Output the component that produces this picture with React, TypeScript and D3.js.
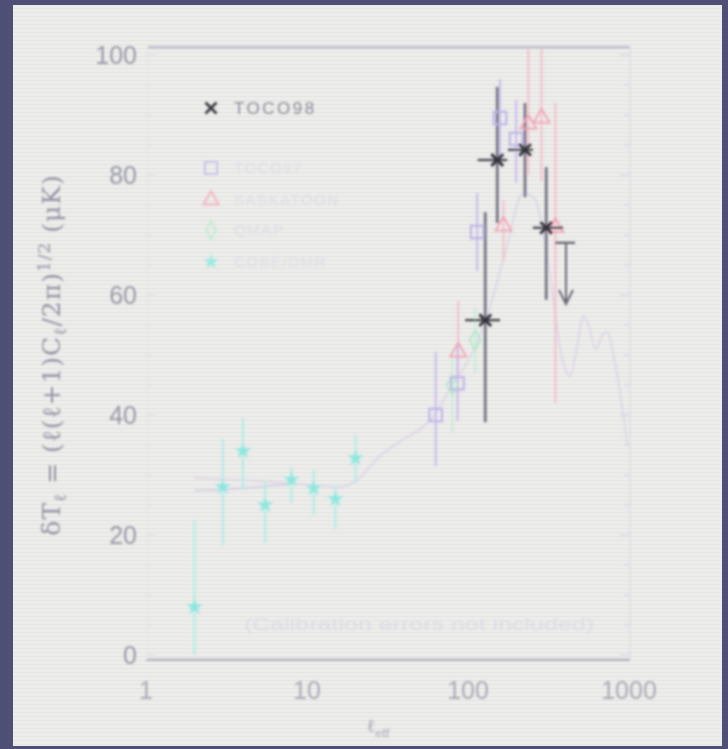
import React from "react";
import * as d3 from "d3";

// ---------- data ----------
const xTicks = [1, 10, 100, 1000];
const xTickLabels = ["1", "10", "100", "1000"];
const yTicks = [0, 20, 40, 60, 80, 100];
const yTickLabels = ["0", "20", "40", "60", "80", "100"];

// COBE/DMR
const cobeL = [2, 3, 4, 5.5, 8, 11, 15, 20];
const cobeV = [8, 28, 34, 25, 29.2, 27.8, 26, 32.8];
const cobeHi = [22.5, 36, 39.5, 29, 31.3, 30.8, 28, 36.7];
const cobeLo = [0, 18.3, 27.5, 18.7, 25.3, 23.3, 21, 28.7];

// TOCO97
const toco97L = [63, 86, 114, 158, 199];
const toco97V = [40, 45.3, 70.5, 89.5, 86];
const toco97Hi = [50.5, 52, 77, 96, 92.5];
const toco97Lo = [31.5, 39, 64, 82, 78.7];

// SASKATOON
const sasL = [87, 166, 237, 286, 349];
const sasV = [50.5, 71.5, 88.5, 89.5, 71.3];
const sasHi = [59, 75.8, 101, 101, 92];
const sasLo = [43, 65.8, 80, 79, 42];

// QMAP
const qmapL = [80, 111];
const qmapV = [45, 52.5];
const qmapHi = [49.7, 58];
const qmapLo = [37, 47];

// TOCO98
const toco98L = [128, 152, 226, 306];
const toco98V = [55.8, 82.5, 84.2, 71.2];
const toco98Hi = [73.8, 94.7, 92, 81.3];
const toco98Lo = [38.8, 72, 76.3, 59.2];
const toco98LMin = [96, 115, 177, 253];
const toco98LMax = [158, 175, 253, 389];
// TOCO98 upper limit
const limL = [406];
const limLMin = [347];
const limLMax = [462];
const limV = [68.7];
const limArrowTo = [58.5];

// model curve
const modelL = [2, 3, 5, 8, 12, 16, 20, 28, 40, 50, 60, 80, 100, 130, 170, 220, 260, 320, 380, 430, 480, 520, 560, 620, 690, 740, 800, 860, 920, 980];
const modelV = [29.5, 29.3, 29, 28.6, 28.2, 28, 29, 33, 36, 37.6, 39.5, 45, 49, 56, 67, 77, 76, 64, 50, 46.5, 52, 56.5, 55, 51, 53.5, 53.8, 50, 45.5, 40, 35];
const model2L = [2, 3, 5, 8];
const model2V = [27.4, 27.6, 28, 28.5];

// legend
const legendNames = ["TOCO98", "TOCO97", "SASKATOON", "QMAP", "COBE/DMR"];

const W = 728;
const H = 749;

export default function App() {
  const x = d3.scaleLog().domain([1, 1000]).range([146, 629]);
  const y = d3.scaleLinear().domain([0, 100]).range([655, 55]);
  const yTop = 101.3;
  const yBot = -0.8;

  const line = d3
    .line<[number, number]>()
    .x((d) => x(d[0]))
    .y((d) => y(d[1]))
    .curve(d3.curveMonotoneX);

  const sym = (type: d3.SymbolType, size: number) => d3.symbol().type(type).size(size)() as string;

  const errBars = (L: number[], hi: number[], lo: number[], color: string, w: number, key: string) =>
    L.map((l, i) => (
      <line key={key + i} x1={x(l)} x2={x(l)} y1={y(Math.min(hi[i], yTop))} y2={y(Math.max(lo[i], yBot))} stroke={color} strokeWidth={w} />
    ));

  const cobeCol = "#8ee6de";
  const t97Col = "#beb3e8";
  const sasCol = "#f3a4b6";
  const qmapCol = "#b0eac8";
  const t98Col = "#34343c";

  const legendY = [108, 168, 200, 230, 262];
  const legendX = 211;

  return (
    <svg width={W} height={H} style={{ position: "absolute", left: 0, top: 0 }} xmlns="http://www.w3.org/2000/svg">
      <defs>
        <pattern id="scan" width="4" height="4" patternUnits="userSpaceOnUse">
          <rect width="4" height="1" fill="#000" opacity="0.025" />
        </pattern>
        <filter id="soft" x="-5%" y="-5%" width="110%" height="110%">
          <feGaussianBlur stdDeviation="0.8" />
        </filter>
      </defs>
      {/* frame */}
      <rect x={0} y={0} width={W} height={H} fill="#4f4e74" />
      <rect x={13} y={5} width={W - 19} height={H - 8} fill="#ececea" />
      <rect x={13} y={5} width={W - 19} height={H - 8} fill="url(#scan)" />

      <g filter="url(#soft)">
        {/* plot box */}
        <line x1={x(1) + 2} x2={x(1000) + 1} y1={y(yTop)} y2={y(yTop)} stroke="#b4b4c6" strokeWidth={2} />
        <line x1={x(1)} x2={x(1000) + 1} y1={y(yBot)} y2={y(yBot)} stroke="#a9a9bb" strokeWidth={2} />
        <line x1={x(1000) + 1} x2={x(1000) + 1} y1={y(yTop)} y2={y(yBot)} stroke="#dedee8" strokeWidth={1.5} />
        <line x1={x(1) + 1} x2={x(1) + 1} y1={y(yTop)} y2={y(yBot)} stroke="#e6e6ec" strokeWidth={1} />
        {d3.range(0, 101, 5).map((v) => (
          <g key={"rt" + v}>
            <line x1={x(1000) + 1} x2={x(1000) - (v % 20 === 0 ? 9 : 5)} y1={y(v)} y2={y(v)} stroke="#d8d8e4" strokeWidth={1.5} />
            <line x1={x(1) + 1} x2={x(1) + (v % 20 === 0 ? 9 : 5)} y1={y(v)} y2={y(v)} stroke="#dedee6" strokeWidth={1.5} />
          </g>
        ))}

        {/* tick labels */}
        {yTicks.map((v, i) => (
          <text key={"yl" + v} x={137} y={y(v)} dy="0.36em" textAnchor="end" fontFamily="Liberation Sans, Arial, sans-serif" fontSize={25} fill="#9a9aa9">
            {yTickLabels[i]}
          </text>
        ))}
        {xTicks.map((v, i) => (
          <text key={"xl" + v} x={x(v)} y={690} dy="0.36em" textAnchor="middle" fontFamily="Liberation Sans, Arial, sans-serif" fontSize={25} fill="#ababb8">
            {xTickLabels[i]}
          </text>
        ))}

        {/* axis titles */}
        <text transform="translate(60,355) rotate(-90)" textAnchor="middle" fontFamily="DejaVu Serif, serif" fontSize={25} letterSpacing={1} fill="#9494a6">
          δT<tspan dy={6} fontSize={17}>ℓ</tspan>
          <tspan dy={-6}> = (ℓ(ℓ+1)C</tspan>
          <tspan dy={6} fontSize={17}>ℓ</tspan>
          <tspan dy={-6}>/2π)</tspan>
          <tspan dy={-10} fontSize={17}>1/2</tspan>
          <tspan dy={10}> (μK)</tspan>
        </text>
        <text x={378} y={732} textAnchor="middle" fontFamily="DejaVu Serif, serif" fontSize={18} fill="#a4a4b4">
          ℓ<tspan dy={5} fontSize={11}>eff</tspan>
        </text>

        {/* note */}
        <text x={419} y={630} textAnchor="middle" fontFamily="Liberation Sans, Arial, sans-serif" fontSize={17} fill="#dcdce7" textLength={350} lengthAdjust="spacingAndGlyphs">
          (Calibration errors not included)
        </text>

        {/* model curves */}
        <path d={line(model2L.map((l, i) => [l, model2V[i]]) as any) || ""} fill="none" stroke="#d2cae4" strokeWidth={1.5} />
        <path d={line(modelL.map((l, i) => [l, modelV[i]]) as any) || ""} fill="none" stroke="#dad0e6" strokeWidth={1.4} />

        {/* error bars */}
        {errBars(cobeL, cobeHi, cobeLo, "#aeeee8", 2, "ce")}
        {errBars(qmapL, qmapHi, qmapLo, "#c2efd6", 1.8, "qe")}
        {errBars(sasL, sasHi, sasLo, "#f6b6c4", 1.6, "se")}
        {errBars(toco97L, toco97Hi, toco97Lo, "#cbc1ee", 2.2, "te")}
        {errBars(toco98L, toco98Hi, toco98Lo, "#747484", 2.8, "t8e")}

        {/* markers */}
        {cobeL.map((l, i) => (
          <path key={"cm" + i} d={sym(d3.symbolStar, 70)} transform={`translate(${x(l)},${y(cobeV[i])})`} fill={cobeCol} stroke="#a6ebe4" strokeWidth={1} />
        ))}
        {qmapL.map((l, i) => (
          <path key={"qm" + i} d={sym(d3.symbolDiamond, 110)} transform={`translate(${x(l)},${y(qmapV[i])})`} fill="none" stroke={qmapCol} strokeWidth={1.8} />
        ))}
        {sasL.map((l, i) => (
          <path key={"sm" + i} d={sym(d3.symbolTriangle, 110)} transform={`translate(${x(l)},${y(sasV[i])})`} fill="none" stroke={sasCol} strokeWidth={1.8} />
        ))}
        {toco97L.map((l, i) => (
          <path key={"tm" + i} d={sym(d3.symbolSquare, 160)} transform={`translate(${x(l)},${y(toco97V[i])})`} fill="none" stroke={t97Col} strokeWidth={2} />
        ))}
        {toco98L.map((l, i) => (
          <g key={"t8m" + i}>
            <line x1={x(toco98LMin[i])} x2={x(toco98LMax[i])} y1={y(toco98V[i])} y2={y(toco98V[i])} stroke="#44444e" strokeWidth={2.2} />
            <path d={sym(d3.symbolTimes, 90)} transform={`translate(${x(l)},${y(toco98V[i])})`} fill="none" stroke={t98Col} strokeWidth={3} />
          </g>
        ))}
        {limL.map((l, i) => (
          <g key={"lim" + i}>
            <line x1={x(limLMin[i])} x2={x(limLMax[i])} y1={y(limV[i])} y2={y(limV[i])} stroke="#55555f" strokeWidth={2} />
            <line x1={x(l)} x2={x(l)} y1={y(limV[i])} y2={y(limArrowTo[i])} stroke="#6a6a78" strokeWidth={2} />
            <path
              d={`M${x(l) - 7},${y(limArrowTo[i]) - 14} L${x(l)},${y(limArrowTo[i])} L${x(l) + 7},${y(limArrowTo[i]) - 14}`}
              fill="none"
              stroke="#6a6a78"
              strokeWidth={2}
            />
          </g>
        ))}

        {/* legend */}
        <g>
          <path d={sym(d3.symbolTimes, 80)} transform={`translate(${legendX},${legendY[0]})`} fill="none" stroke="#3a3a44" strokeWidth={2.6} />
          <path d={sym(d3.symbolSquare, 150)} transform={`translate(${legendX},${legendY[1]})`} fill="none" stroke="#c8bfea" strokeWidth={1.8} />
          <path d={sym(d3.symbolTriangle, 100)} transform={`translate(${legendX},${legendY[2]})`} fill="none" stroke="#f5b0c0" strokeWidth={1.8} />
          <path d={sym(d3.symbolDiamond, 90)} transform={`translate(${legendX},${legendY[3]})`} fill="none" stroke="#bcedd0" strokeWidth={1.8} />
          <path d={sym(d3.symbolStar, 70)} transform={`translate(${legendX},${legendY[4]})`} fill="#9ceae3" />
          {legendNames.map((n, i) => (
            <text
              key={"lg" + i}
              x={234}
              y={legendY[i]}
              dy="0.36em"
              fontFamily="Liberation Sans, Arial, sans-serif"
              fontSize={i === 0 ? 17 : 15}
              letterSpacing={i === 0 ? 2.5 : 1.5}
              fill={i === 0 ? "#8e8e9c" : "#dedee8"}
            >
              {n}
            </text>
          ))}
        </g>
      </g>
    </svg>
  );
}
